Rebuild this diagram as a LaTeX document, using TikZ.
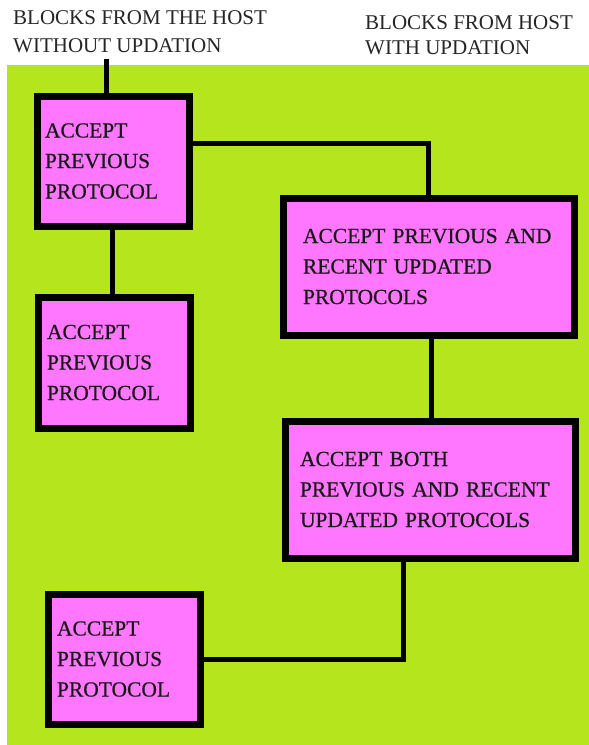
\documentclass[tikz,border=0pt]{standalone}
\usepackage{fontspec}
\setmainfont{Liberation Serif}
\newfontfamily\heavyserif{Liberation Serif}[FakeBold=0.6]
\definecolor{bggreen}{RGB}{181,230,29}
\definecolor{boxpink}{RGB}{255,119,255}
\begin{document}
\begin{tikzpicture}[x=1pt,y=-1pt,
  stage/.style={draw=black, fill=boxpink, line width=7pt, rectangle, inner sep=0pt, outer sep=0pt,
    align=left, font=\heavyserif\fontsize{21.5}{30.5}\selectfont, text=black!90},
  link/.style={draw=black, line width=5pt},
  head/.style={inner sep=0pt, anchor=north west, align=left, text=black!85}]
\useasboundingbox (0,0) rectangle (589,745);
\fill[white] (0,0) rectangle (589,745);
\fill[bggreen] (7,65) rectangle (589,745);

\node[head, font=\fontsize{21}{28}\selectfont] (h1) at (13,10) {BLOCKS FROM THE HOST\\WITHOUT UPDATION};
\node[head, font=\fontsize{21}{25}\selectfont] (h2) at (365,15) {BLOCKS FROM HOST\\WITH UPDATION};

\node[stage, minimum width=152pt, minimum height=130pt, text width=136pt] (b1) at (113,161)
  {ACCEPT\\PREVIOUS\\PROTOCOL};
\node[stage, minimum width=152pt, minimum height=131pt, text width=134pt] (b3) at (114,362.5)
  {ACCEPT\\PREVIOUS\\PROTOCOL};
\node[stage, minimum width=291pt, minimum height=137pt, text width=251pt] (b2) at (428.5,266.5)
  {ACCEPT PREVIOUS AND\\RECENT UPDATED\\PROTOCOLS};
\node[stage, minimum width=290pt, minimum height=137pt, text width=260pt] (b4) at (430,489.5)
  {ACCEPT BOTH\\PREVIOUS AND RECENT\\UPDATED PROTOCOLS};
\node[stage, minimum width=152pt, minimum height=130pt, text width=134pt] (b5) at (124,659)
  {ACCEPT\\PREVIOUS\\PROTOCOL};

\coordinate (src) at (106,59);
\draw[link] (src) -- (src |- b1.north);
\draw[link] ([yshift=18pt]b1.east) -| (b2.north);
\draw[link] ([xshift=-1pt]b1.south) -- ([xshift=-1pt]b1.south |- b3.north);
\draw[link] ([xshift=3pt]b2.south) -- ([xshift=3pt]b2.south |- b4.north);
\draw[link] ([xshift=-27pt]b4.south) |- (b5.east);
\end{tikzpicture}
\end{document}
